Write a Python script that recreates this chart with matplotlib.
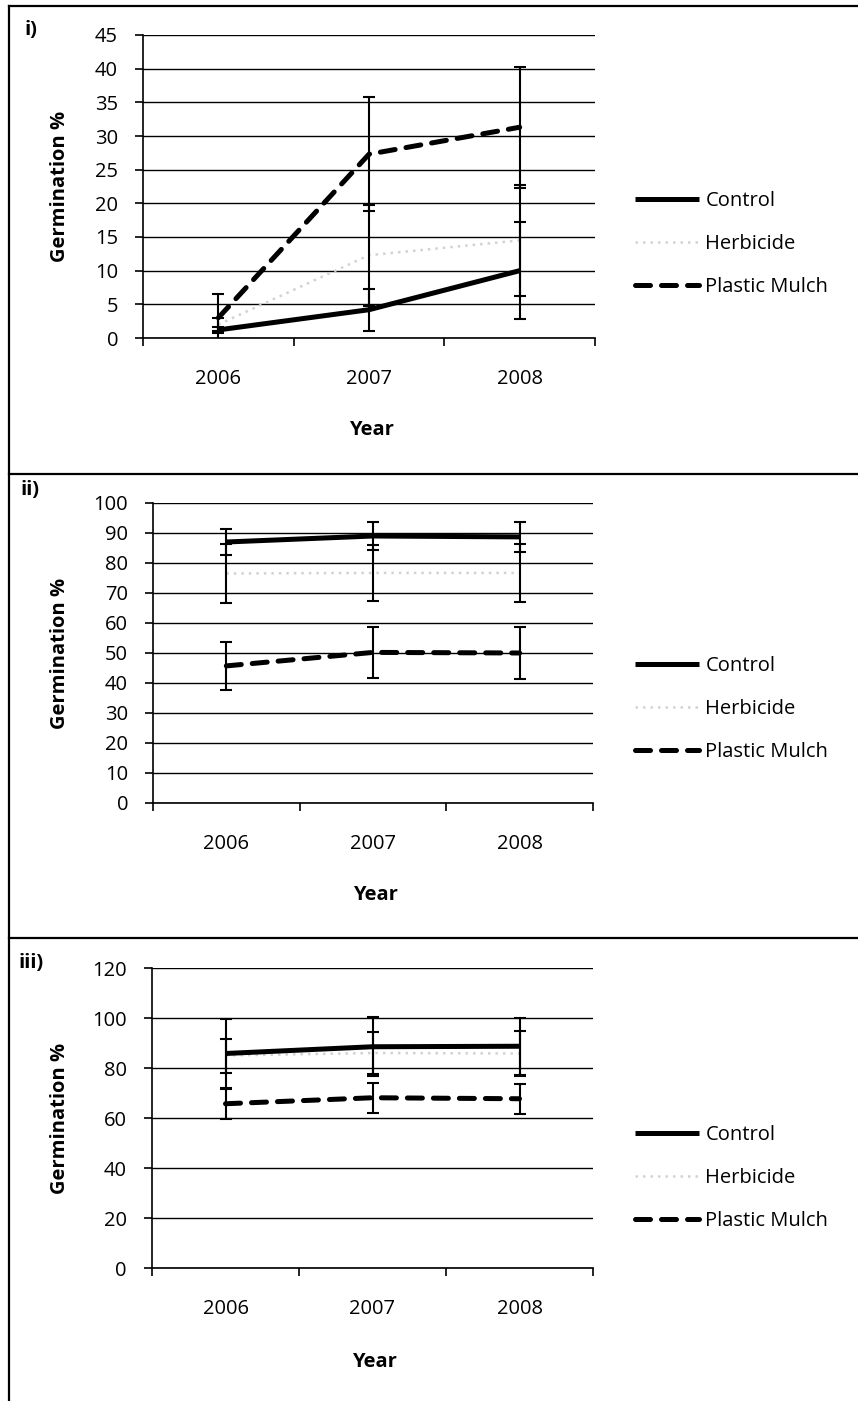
import matplotlib
matplotlib.use("Agg")
import matplotlib.pyplot as plt
from matplotlib.lines import Line2D

plt.rcParams['font.family'] = ['Open Sans', 'DejaVu Sans']

W, H = 858, 1401

years = ['2006', '2007', '2008']
series_names = ['Control', 'Herbicide', 'Plastic Mulch']

# Panel i
control_i = [1.2, 4.2, 10.0]
control_i_err = [0.5, 3.1, 7.2]
herbicide_i = [2.0, 12.3, 14.5]
herbicide_i_err = [0.9, 7.5, 8.2]
plastic_i = [3.0, 27.3, 31.3]
plastic_i_err = [3.5, 8.5, 9.0]

# Panel ii
control_ii = [87.0, 89.0, 88.7]
control_ii_err = [4.3, 4.8, 4.9]
herbicide_ii = [76.5, 76.7, 76.7]
herbicide_ii_err = [9.7, 9.3, 9.7]
plastic_ii = [45.7, 50.2, 50.0]
plastic_ii_err = [8.0, 8.6, 8.7]

# Panel iii
control_iii = [85.8, 88.5, 88.7]
control_iii_err = [13.8, 11.8, 11.4]
herbicide_iii = [85.0, 86.0, 85.8]
herbicide_iii_err = [6.8, 8.5, 9.0]
plastic_iii = [65.7, 68.1, 67.7]
plastic_iii_err = [6.0, 6.0, 6.0]

panel_labels = ['i)', 'ii)', 'iii)']
y_maxes = [45, 100, 120]
y_steps = [5, 10, 20]

panels = [
    dict(vals=[control_i, herbicide_i, plastic_i],
         errs=[control_i_err, herbicide_i_err, plastic_i_err],
         box=(143, 35, 595, 338), label_xy=(24, 30), legend_y=244, year_dy=92),
    dict(vals=[control_ii, herbicide_ii, plastic_ii],
         errs=[control_ii_err, herbicide_ii_err, plastic_ii_err],
         box=(153, 503, 593, 803), label_xy=(20, 490), legend_y=709, year_dy=92),
    dict(vals=[control_iii, herbicide_iii, plastic_iii],
         errs=[control_iii_err, herbicide_iii_err, plastic_iii_err],
         box=(152, 968, 593, 1268), label_xy=(18, 963), legend_y=1178, year_dy=94),
]

styles = [
    dict(color='black', lw=3.6, ls='-', solid_capstyle='butt'),
    dict(color='#d2d2d2', lw=1.8, ls=(0, (1, 2.0))),
    dict(color='black', lw=3.6, ls=(0, (3.0, 2.2)), dash_capstyle='round'),
]

FS = 14.5

fig = plt.figure(figsize=(W / 100, H / 100), dpi=100)


def fx(px):
    return px / W


def fy(py):
    return 1 - py / H


for i, p in enumerate(panels):
    l, t, r, b = p['box']
    ax = fig.add_axes([fx(l), fy(b), (r - l) / W, (b - t) / H])
    x = [0.5, 1.5, 2.5]
    handles = []
    for k in range(3):
        ax.errorbar(x, p['vals'][k], yerr=p['errs'][k], fmt='none',
                    ecolor='black', elinewidth=1.5, capsize=4.5, capthick=1.5, zorder=4)
    for k in range(3):
        h, = ax.plot(x, p['vals'][k], label=series_names[k], zorder=3 + (k != 1), **styles[k])
        handles.append(h)
    ax.set_xlim(0, 3)
    ax.set_ylim(0, y_maxes[i])
    ax.set_yticks(range(0, y_maxes[i] + 1, y_steps[i]))
    ax.grid(axis='y', color='black', lw=1.0)
    ax.set_axisbelow(True)
    for s in ['top', 'right']:
        ax.spines[s].set_visible(False)
    ax.spines['left'].set_linewidth(1.2)
    ax.spines['bottom'].set_linewidth(1.2)
    ax.set_xticks([0, 1, 2, 3])
    ax.set_xticklabels([])
    ax.set_xticks(x, labels=years, minor=True)
    ax.tick_params(axis='x', which='major', direction='out', length=6, width=1.2)
    ax.tick_params(axis='x', which='minor', length=0, pad=22, labelsize=FS)
    ax.tick_params(axis='y', direction='out', length=6, width=1.2, pad=12, labelsize=FS)
    fig.text(fx(60), fy((t + b) / 2), 'Germination %', rotation=90, ha='center', va='center',
             fontsize=FS, fontweight='bold')
    fig.text(fx((l + r) / 2 + 2), fy(b + p['year_dy']), 'Year', ha='center', va='center',
             fontsize=FS, fontweight='bold')
    lx, ly = p['label_xy']
    fig.text(fx(lx), fy(ly), panel_labels[i], ha='left', va='center', fontsize=FS, fontweight='bold')
    fig.legend(handles=handles, loc='center left', bbox_to_anchor=(fx(635), fy(p['legend_y'])),
               frameon=False, fontsize=FS, handlelength=3.2, handletextpad=0.3,
               labelspacing=1.15, borderpad=0, borderaxespad=0)

# frame lines
frame_kw = dict(color='black', lw=1.6, transform=fig.transFigure)
fig.add_artist(Line2D([fx(9), fx(9)], [fy(6), fy(1401)], **frame_kw))
fig.add_artist(Line2D([fx(9), fx(858)], [fy(6), fy(6)], **frame_kw))
fig.add_artist(Line2D([fx(9), fx(858)], [fy(474), fy(474)], **frame_kw))
fig.add_artist(Line2D([fx(9), fx(858)], [fy(938), fy(938)], **frame_kw))

fig.savefig('out.png', dpi=100, facecolor='white')
